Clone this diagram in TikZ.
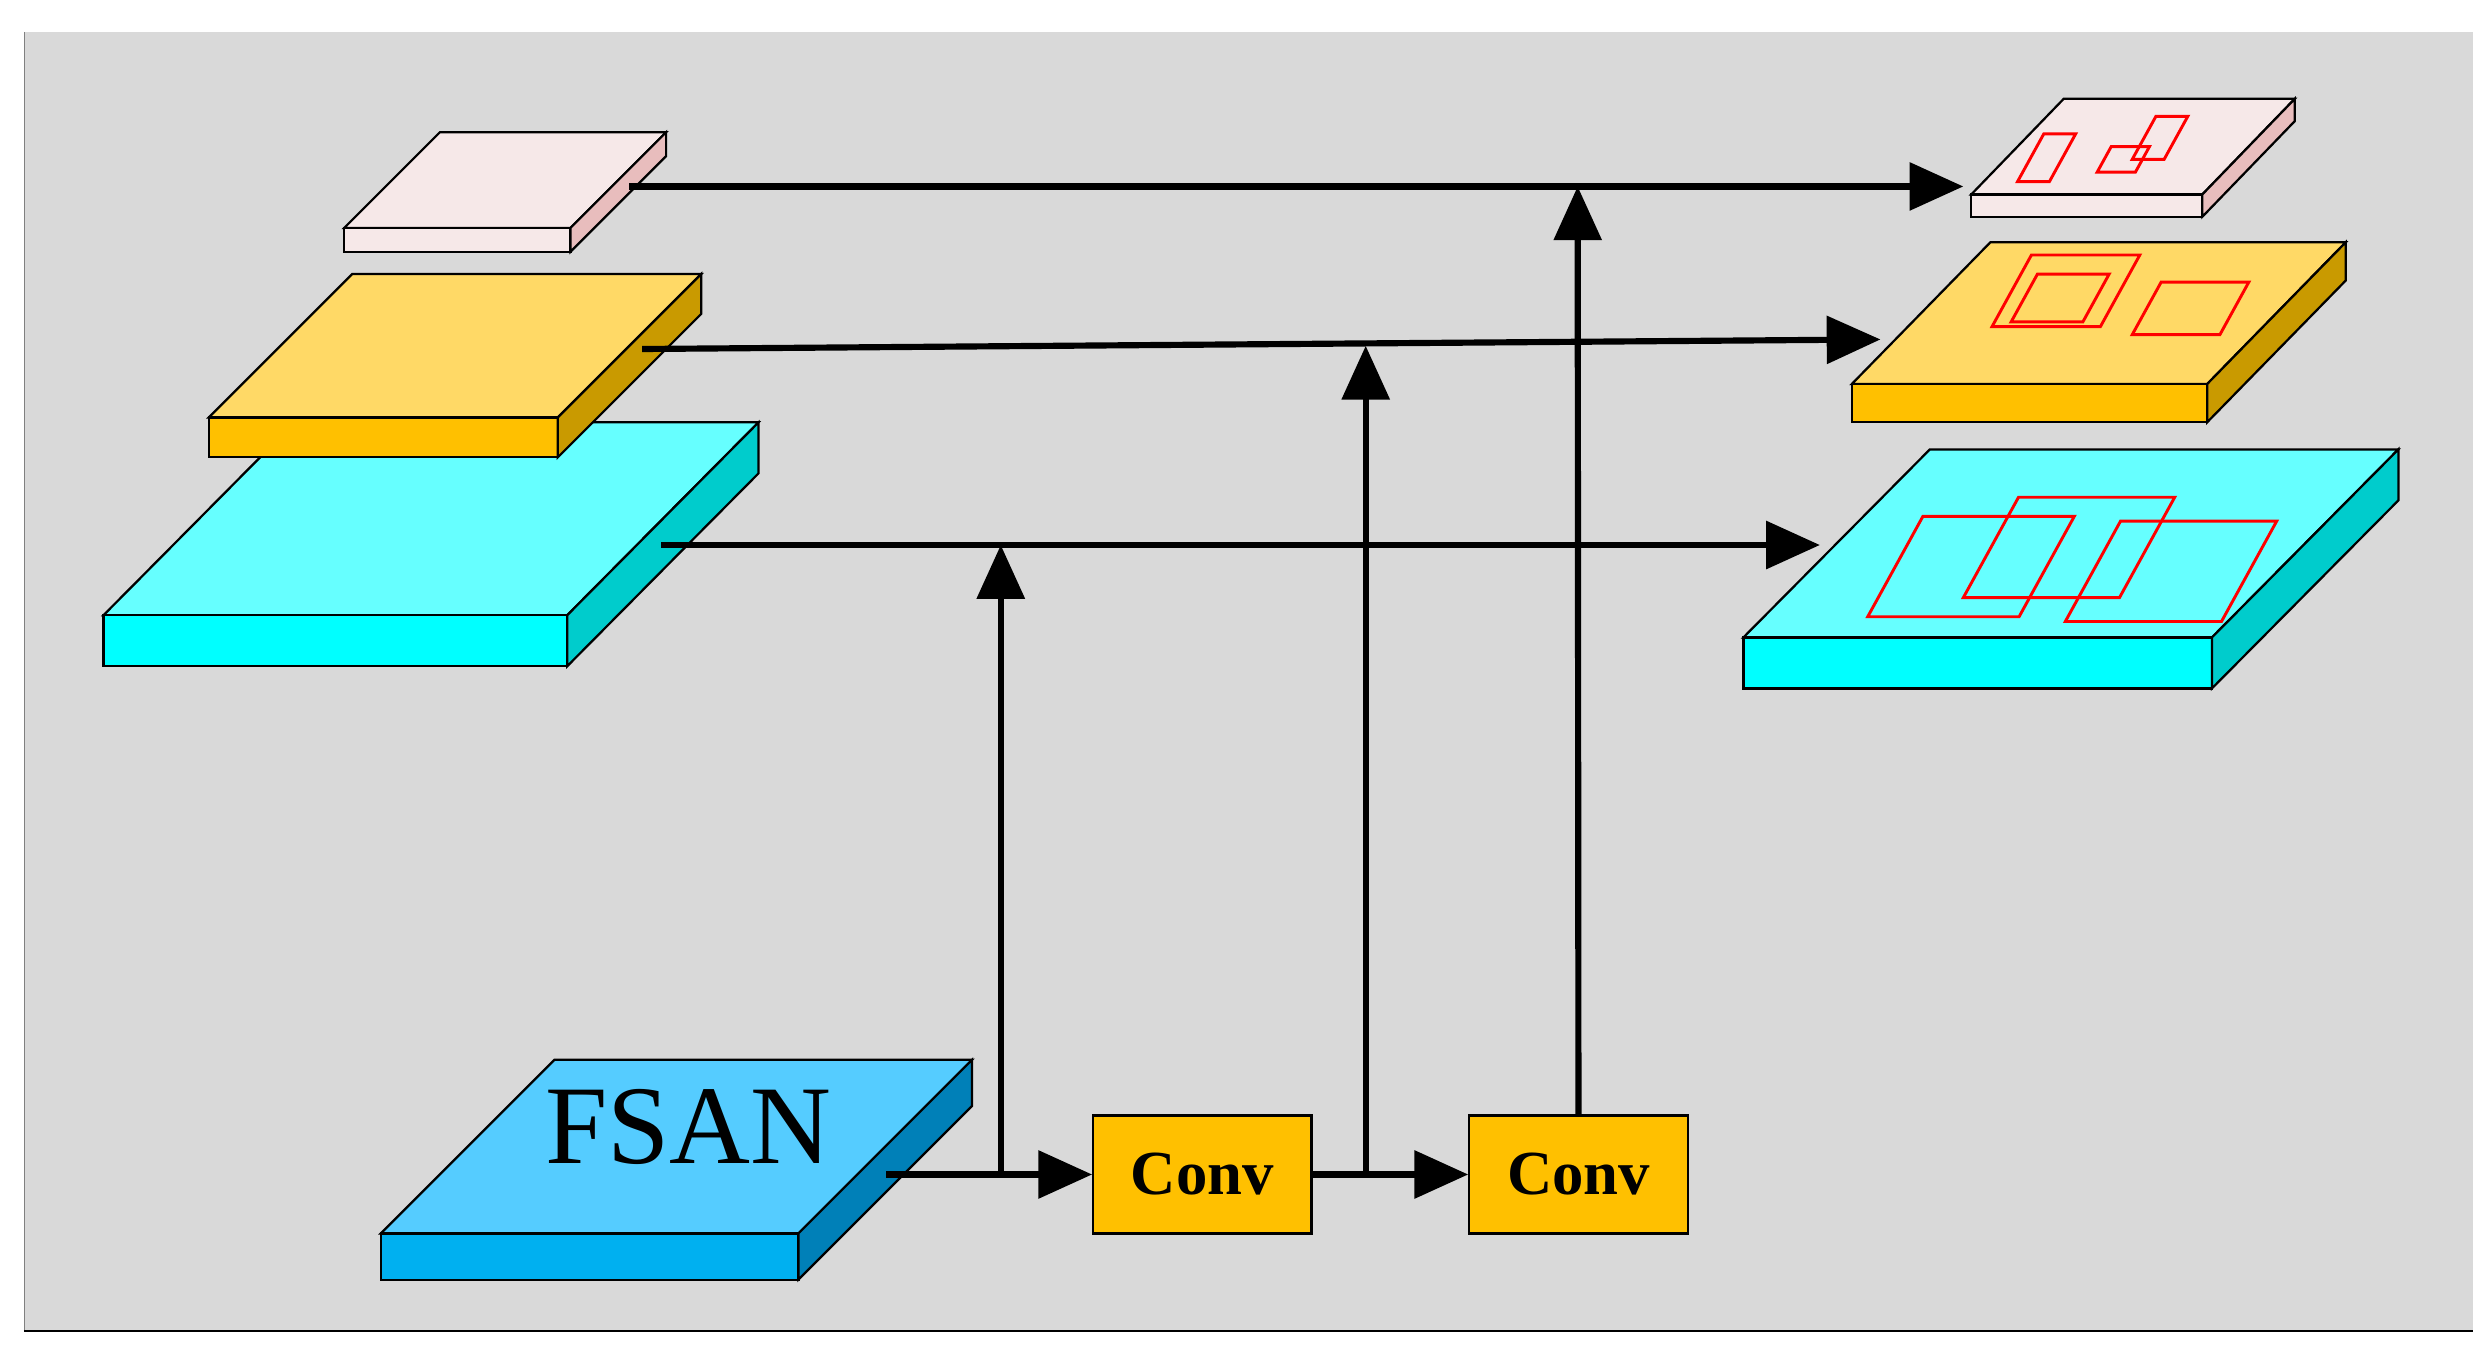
\documentclass[tikz,border=0pt]{standalone}
\usepackage{fontspec}
\setmainfont{Liberation Serif}
\usetikzlibrary{arrows.meta}
\definecolor{pkT}{HTML}{F6E8E8}\definecolor{pkS}{HTML}{E8BDBD}
\definecolor{ylT}{HTML}{FFD966}\definecolor{ylF}{HTML}{FFC000}\definecolor{ylS}{HTML}{C99A00}
\definecolor{cyT}{HTML}{66FFFF}\definecolor{cyF}{HTML}{00FFFF}\definecolor{cyS}{HTML}{00CCCC}
\definecolor{fsT}{HTML}{55CCFF}\definecolor{fsF}{HTML}{00B0F0}\definecolor{fsS}{HTML}{0080B8}
\definecolor{bg}{HTML}{D9D9D9}
\tikzset{edge/.style={line width=2pt},
 arr/.style={line width=5.5pt,-{Triangle[length=48pt,width=42pt]}},
 box/.style={draw,edge,fill=ylF,minimum width=137*0.05cm,minimum height=74*0.05cm,font=\fontsize{56}{60}\selectfont\bfseries}}
\newcommand\myslab[9]{% x1 y1 x2 y2 dx dy top front side
 \filldraw[fill=#7,edge] (#1,#2)--++(#5,-#6)--(#3+#5,#2-#6)--(#3,#2)--cycle;
 \filldraw[fill=#8,edge] (#1,#2) rectangle (#3,#4);
 \filldraw[fill=#9,edge] (#3,#2)--++(#5,-#6)--(#3+#5,#4-#6)--(#3,#4)--cycle;}
\newcommand\mypar[4]{\draw[red,line width=2.6pt] (#1,#2)--++(#3,0)--++(0.55*#4,-#4)--++(-#3,0)--cycle;}
\begin{document}
\begin{tikzpicture}[x=0.05cm,y=-0.05cm]
\useasboundingbox (0,0) rectangle (1560,851);
\fill[bg] (15,20) rectangle (1552,835);
\draw[thin,gray] (15,20)--(15,835);
\draw[line width=2pt] (15,835)--(1552,835);
% left slabs
\myslab{65}{386}{356}{418}{120}{121}{cyT}{cyF}{cyS}
\myslab{131}{262}{350}{287}{90}{90}{ylT}{ylF}{ylS}
\myslab{216}{143}{358}{158}{60}{60}{pkT}{pkT}{pkS}
% right slabs
\myslab{1094}{400}{1388}{432}{117}{118}{cyT}{cyF}{cyS}
\myslab{1162}{241}{1385}{265}{87}{89}{ylT}{ylF}{ylS}
\myslab{1237}{122}{1382}{136}{58}{60}{pkT}{pkT}{pkS}
% red boxes
\mypar{1266}{114}{20}{30}\mypar{1316}{108}{24}{16}\mypar{1338}{100}{20}{27}
\mypar{1250}{205}{68}{45}\mypar{1262}{202}{45}{30}\mypar{1338}{210}{55}{33}
\mypar{1172}{387}{95}{63}\mypar{1232}{375}{98}{63}\mypar{1296}{390}{98}{63}
% FSAN
\myslab{239}{774}{501}{803}{109}{109}{fsT}{fsF}{fsS}
\node (fsan) at (432,707) {\fontsize{100}{110}\selectfont FSAN};
\node[box] (c1) at (754.5,737) {Conv};
\node[box] (c2) at (990.5,737) {Conv};
% coordinates
\coordinate (pS) at (395,117); \coordinate (pE) at (1232,117);
\coordinate (yS) at (403,219); \coordinate (yE) at (1180,213);
\coordinate (cS) at (415,342); \coordinate (cE) at (1142,342);
\coordinate (fS) at (556,737);
\coordinate (j1) at (628,737); \coordinate (t1) at (628,342);
\coordinate (j2) at (857,737); \coordinate (t2) at (857,217);
\coordinate (t3) at (990,117);
\draw[arr] (pS)--(pE);
\draw[arr] (yS)--(yE);
\draw[arr] (cS)--(cE);
\draw[arr] (fS)--(c1.west);
\draw[arr] (c1.east)--(c2.west);
\draw[arr] (j1)--(t1);
\draw[arr] (j2)--(t2);
\draw[arr] (c2.north)--(t3);
\end{tikzpicture}
\end{document}
